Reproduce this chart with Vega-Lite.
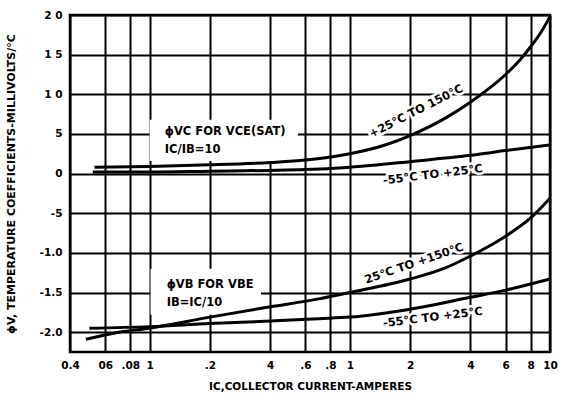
{
  "$schema": "https://vega.github.io/schema/vega-lite/v6.json",
  "autosize": {"type": "none"},
  "width": 480,
  "height": 337,
  "padding": {"left": 70, "top": 15, "right": 25, "bottom": 46},
  "background": "white",
  "config": {
    "view": {"stroke": "black", "strokeWidth": 2.5},
    "font": "DejaVu Sans",
    "axis": {
      "domain": false,
      "ticks": false,
      "grid": true,
      "gridColor": "black",
      "gridWidth": 2,
      "gridOpacity": 1,
      "labelColor": "black",
      "labelFont": "DejaVu Sans",
      "labelFontWeight": "bold",
      "labelFontSize": 10.5,
      "titleColor": "black",
      "titleFont": "DejaVu Sans",
      "titleFontWeight": "bold",
      "titleFontSize": 10.5
    }
  },
  "datasets": {
    "curves": [
      {"series": "VC hot", "current": 0.053, "coef": 0.08},
      {"series": "VC hot", "current": 0.1, "coef": 0.09},
      {"series": "VC hot", "current": 0.2, "coef": 0.11},
      {"series": "VC hot", "current": 0.4, "coef": 0.14},
      {"series": "VC hot", "current": 0.6, "coef": 0.17},
      {"series": "VC hot", "current": 1, "coef": 0.25},
      {"series": "VC hot", "current": 1.5, "coef": 0.36},
      {"series": "VC hot", "current": 2, "coef": 0.48},
      {"series": "VC hot", "current": 3, "coef": 0.7},
      {"series": "VC hot", "current": 4, "coef": 0.9},
      {"series": "VC hot", "current": 5, "coef": 1.08},
      {"series": "VC hot", "current": 6, "coef": 1.25},
      {"series": "VC hot", "current": 7, "coef": 1.42},
      {"series": "VC hot", "current": 8, "coef": 1.6},
      {"series": "VC hot", "current": 9, "coef": 1.78},
      {"series": "VC hot", "current": 10, "coef": 1.98},
      {"series": "VC cold", "current": 0.052, "coef": 0.02},
      {"series": "VC cold", "current": 0.1, "coef": 0.02},
      {"series": "VC cold", "current": 0.2, "coef": 0.03},
      {"series": "VC cold", "current": 0.4, "coef": 0.04},
      {"series": "VC cold", "current": 0.6, "coef": 0.05},
      {"series": "VC cold", "current": 1, "coef": 0.08},
      {"series": "VC cold", "current": 2, "coef": 0.15},
      {"series": "VC cold", "current": 4, "coef": 0.23},
      {"series": "VC cold", "current": 6, "coef": 0.29},
      {"series": "VC cold", "current": 10, "coef": 0.36},
      {"series": "VB hot", "current": 0.048, "coef": -2.09},
      {"series": "VB hot", "current": 0.07, "coef": -2.0},
      {"series": "VB hot", "current": 0.1, "coef": -1.95},
      {"series": "VB hot", "current": 0.2, "coef": -1.81},
      {"series": "VB hot", "current": 0.4, "coef": -1.68},
      {"series": "VB hot", "current": 0.7, "coef": -1.58},
      {"series": "VB hot", "current": 1, "coef": -1.5},
      {"series": "VB hot", "current": 2, "coef": -1.33},
      {"series": "VB hot", "current": 3, "coef": -1.19},
      {"series": "VB hot", "current": 4, "coef": -1.04},
      {"series": "VB hot", "current": 5, "coef": -0.91},
      {"series": "VB hot", "current": 6, "coef": -0.79},
      {"series": "VB hot", "current": 8, "coef": -0.56},
      {"series": "VB hot", "current": 10, "coef": -0.31},
      {"series": "VB cold", "current": 0.05, "coef": -1.95},
      {"series": "VB cold", "current": 0.1, "coef": -1.93},
      {"series": "VB cold", "current": 0.2, "coef": -1.89},
      {"series": "VB cold", "current": 0.4, "coef": -1.86},
      {"series": "VB cold", "current": 0.7, "coef": -1.83},
      {"series": "VB cold", "current": 1, "coef": -1.81},
      {"series": "VB cold", "current": 2, "coef": -1.71},
      {"series": "VB cold", "current": 4, "coef": -1.56},
      {"series": "VB cold", "current": 6, "coef": -1.47},
      {"series": "VB cold", "current": 10, "coef": -1.33}
    ],
    "lab27": [{"current": 2.15, "coef": 0.78, "label": "+25°C TO 150°C"}],
    "lab8": [{"current": 2.6, "coef": -0.02, "label": "-55°C TO +25°C"}, {"current": 2.6, "coef": -1.82, "label": "-55°C TO +25°C"}],
    "lab19": [{"current": 2.1, "coef": -1.14, "label": "25°C TO +150°C"}]
  },
  "encoding": {
    "x": {"field": "current", "type": "quantitative", "scale": {"type": "log", "domain": [0.04, 10], "nice": false},
      "title": "IC,COLLECTOR CURRENT-AMPERES",
      "axis": {
        "values": [0.04, 0.06, 0.08, 0.1, 0.2, 0.4, 0.6, 0.8, 1, 2, 4, 6, 8, 10],
        "labelExpr": "datum.value < 0.05 ? '0.4' : datum.value < 0.07 ? '06' : datum.value < 0.09 ? '.08' : datum.value < 0.15 ? '1' : datum.value < 0.3 ? '.2' : datum.value < 0.5 ? '4' : datum.value < 0.7 ? '.6' : datum.value < 0.9 ? '.8' : datum.value < 1.5 ? '1' : datum.value < 3 ? '2' : datum.value < 5 ? '4' : datum.value < 7 ? '6' : datum.value < 9 ? '8' : '10'",
        "labelPadding": 8,
        "titlePadding": 11,
        "labelFlush": false
      }},
    "y": {"field": "coef", "type": "quantitative", "scale": {"domain": [-2.25, 2], "nice": false, "zero": false},
      "title": "ϕV, TEMPERATURE COEFFICIENTS-MILLIVOLTS/°C",
      "axis": {
        "values": [-2, -1.5, -1, -0.5, 0, 0.5, 1, 1.5, 2],
        "labelExpr": "datum.value < -1.75 ? '-2.0' : datum.value < -1.25 ? '-1.5' : datum.value < -0.75 ? '-1.0' : datum.value < -0.25 ? '-5' : datum.value < 0.25 ? '0' : datum.value < 0.75 ? '5' : datum.value < 1.25 ? '1 0' : datum.value < 1.75 ? '1 5' : '2 0'",
        "labelPadding": 8,
        "titlePadding": 23,
        "titleFontSize": 11,
        "labelFlush": false
      }}
  },
  "layer": [
    {
      "data": {"values": [
        {"current": 0.1, "current2": 0.55, "coef": 0.16, "coef2": 0.68},
        {"current": 0.101, "current2": 0.36, "coef": -1.2, "coef2": -1.78}
      ]},
      "mark": {"type": "rect", "fill": "white"},
      "encoding": {
        "x2": {"field": "current2"},
        "y2": {"field": "coef2"}
      }
    },
    {
      "data": {"name": "lab27"},
      "mark": {"type": "text", "angle": -27, "align": "center", "baseline": "middle", "fontWeight": "bold", "fontSize": 11.5, "color": "white", "stroke": "white", "strokeWidth": 5},
      "encoding": {"text": {"field": "label"}}
    },
    {
      "data": {"name": "lab8"},
      "mark": {"type": "text", "angle": -7, "align": "center", "baseline": "middle", "fontWeight": "bold", "fontSize": 11.5, "color": "white", "stroke": "white", "strokeWidth": 5},
      "encoding": {"text": {"field": "label"}}
    },
    {
      "data": {"name": "lab19"},
      "mark": {"type": "text", "angle": -19, "align": "center", "baseline": "middle", "fontWeight": "bold", "fontSize": 11.5, "color": "white", "stroke": "white", "strokeWidth": 5},
      "encoding": {"text": {"field": "label"}}
    },
    {
      "data": {"name": "curves"},
      "mark": {"type": "line", "color": "black", "strokeWidth": 3, "interpolate": "monotone"},
      "encoding": {
        "detail": {"field": "series"}
      }
    },
    {
      "data": {"values": [
        {"current": 0.119, "coef": 0.53, "label": "ϕVC FOR VCE(SAT)"},
        {"current": 0.119, "coef": 0.30, "label": "IC/IB=10"},
        {"current": 0.1216, "coef": -1.40, "label": "ϕVB FOR VBE"},
        {"current": 0.1216, "coef": -1.63, "label": "IB=IC/10"}
      ]},
      "mark": {"type": "text", "align": "left", "baseline": "middle", "fontWeight": "bold", "fontSize": 11.5, "color": "black"},
      "encoding": {
        "text": {"field": "label"}
      }
    },
    {
      "data": {"name": "lab27"},
      "mark": {"type": "text", "angle": -27, "align": "center", "baseline": "middle", "fontWeight": "bold", "fontSize": 11.5, "color": "black"},
      "encoding": {"text": {"field": "label"}}
    },
    {
      "data": {"name": "lab8"},
      "mark": {"type": "text", "angle": -7, "align": "center", "baseline": "middle", "fontWeight": "bold", "fontSize": 11.5, "color": "black"},
      "encoding": {"text": {"field": "label"}}
    },
    {
      "data": {"name": "lab19"},
      "mark": {"type": "text", "angle": -19, "align": "center", "baseline": "middle", "fontWeight": "bold", "fontSize": 11.5, "color": "black"},
      "encoding": {"text": {"field": "label"}}
    }
  ]
}
